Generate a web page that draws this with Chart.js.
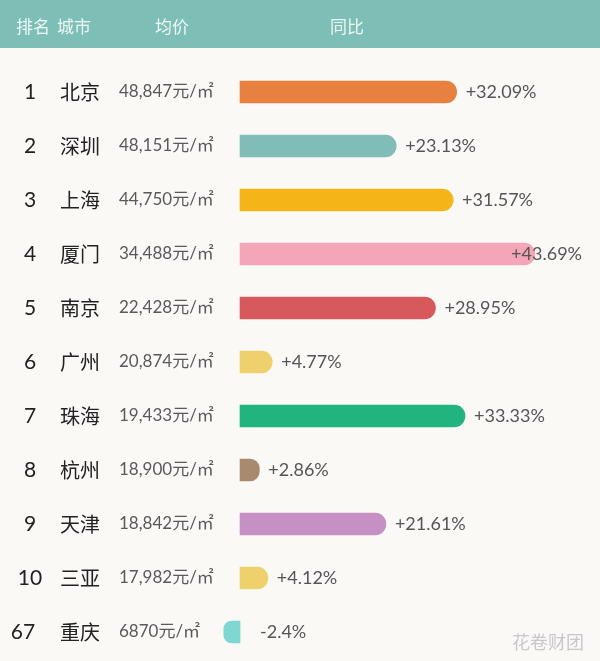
<!DOCTYPE html>
<html>
<head>
<meta charset="utf-8">
<script src="https://cdn.jsdelivr.net/npm/chart.js@4.4.1/dist/chart.umd.min.js"></script>
<style>
  html, body { margin: 0; padding: 0; background: #faf9f6; }
  #wrap { width: 600px; height: 661px; }
</style>
</head>
<body>
<div id="wrap"><canvas id="rankChart" width="600" height="661"></canvas></div>
<script>
// 城市房价排名 — 均价 + 同比
var ranks = ['1', '2', '3', '4', '5', '6', '7', '8', '9', '10', '67'];
var cities = ['北京', '深圳', '上海', '厦门', '南京', '广州', '珠海', '杭州', '天津', '三亚', '重庆'];
var prices = ['48,847', '48,151', '44,750', '34,488', '22,428', '20,874', '19,433', '18,900', '18,842', '17,982', '6870'];
var yoy = [32.09, 23.13, 31.57, 43.69, 28.95, 4.77, 33.33, 2.86, 21.61, 4.12, -2.4];
var barColors = ['#e8803f', '#80bcb8', '#f5b418', '#f4a6b6', '#d8595b', '#eed06c', '#21b47f', '#a88b6f', '#c690c5', '#eed06c', '#80d6d3'];
var headers = ['排名', '城市', '均价', '同比'];

var FONT_CN = '"Noto Sans CJK SC", "Noto Sans", sans-serif';
var FONT_NUM = 'Lato, "Noto Sans CJK SC", sans-serif';

var tablePlugin = {
    id: 'table',
    beforeDraw: function(chart) {
        var ctx = chart.ctx;
        ctx.save();
        ctx.fillStyle = '#faf9f6';
        ctx.fillRect(0, 0, chart.width, chart.height);
        // header strip
        ctx.fillStyle = '#7dbfb6';
        ctx.fillRect(0, 0, chart.width, 48);
        ctx.fillStyle = '#eef7f4';
        ctx.font = '17px ' + FONT_CN;
        ctx.textBaseline = 'middle';
        var hx = [16, 57, 155, 330];
        headers.forEach(function(h, i) { ctx.fillText(h, hx[i], 27); });
        ctx.restore();
    },
    afterDatasetsDraw: function(chart) {
        var ctx = chart.ctx;
        var y = chart.scales.y;
        var bars = chart.getDatasetMeta(0).data;
        ctx.save();
        ctx.textBaseline = 'middle';
        cities.forEach(function(c, i) {
            var py = y.getPixelForValue(i);
            ctx.fillStyle = '#222';
            ctx.textAlign = 'center';
            ctx.font = '21px ' + FONT_NUM;
            ctx.fillText(ranks[i], i === 10 ? 23 : 30, py);
            ctx.textAlign = 'left';
            ctx.font = '20px ' + FONT_CN;
            ctx.fillText(c, 60, py);
            ctx.fillStyle = '#5a5a5a';
            ctx.font = '17px ' + FONT_NUM;
            ctx.fillText(prices[i] + '元/㎡', 119, py);

            // 同比 label
            var v = yoy[i];
            var txt = (v > 0 ? '+' : '') + v + '%';
            ctx.font = '18px ' + FONT_NUM;
            var w = ctx.measureText(txt).width;
            var bar = bars[i];
            var end = Math.max(bar.x, bar.base);
            var lx = v < 0 ? end + 20 : Math.min(end + 9, 582 - w);
            ctx.fillStyle = '#555';
            ctx.fillText(txt, lx, py);
        });
        // watermark
        ctx.fillStyle = '#c9c9c9';
        ctx.font = '18px ' + FONT_CN;
        ctx.fillText('花卷财团', 512, 642);
        ctx.restore();
    }
};

new Chart(document.getElementById('rankChart'), {
    type: 'bar',
    data: {
        labels: cities,
        datasets: [{
            data: yoy,
            backgroundColor: barColors,
            barThickness: 22,
            borderRadius: 11,
            borderSkipped: 'start'
        }]
    },
    options: {
        indexAxis: 'y',
        responsive: false,
        devicePixelRatio: 1,
        animation: false,
        layout: { padding: { top: 65, bottom: 2, left: 0, right: 0 } },
        plugins: { legend: { display: false }, tooltip: { enabled: false } },
        scales: {
            x: { display: false, min: -35.56, max: 53.33 },
            y: { display: false }
        }
    },
    plugins: [tablePlugin]
});
</script>
</body>
</html>
